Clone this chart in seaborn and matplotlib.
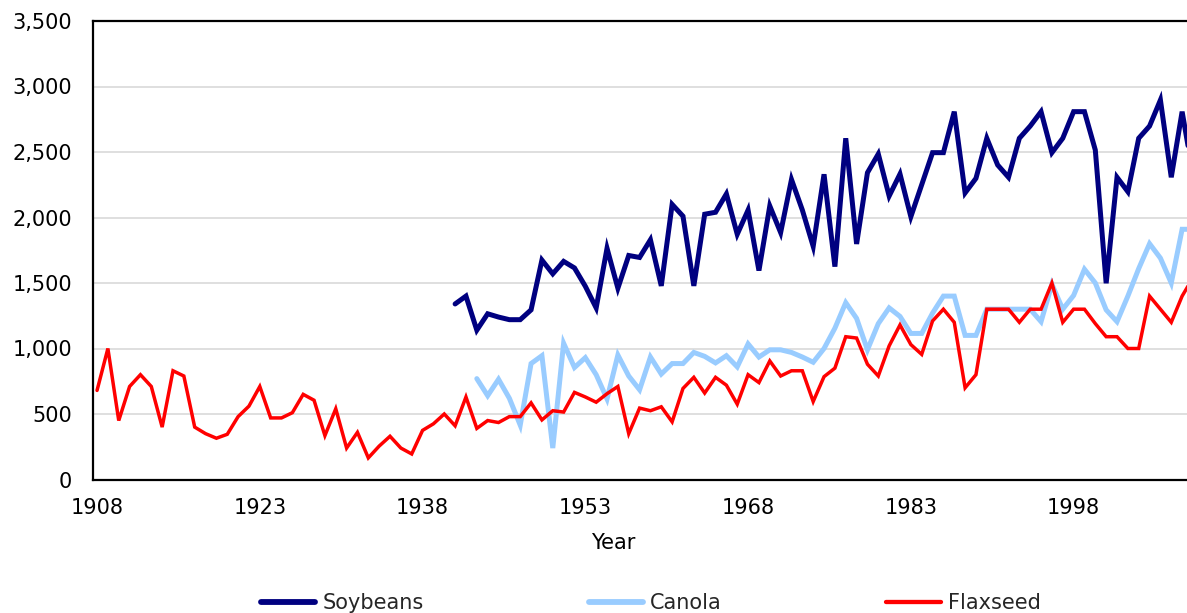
import numpy as np
import pandas as pd
import matplotlib
matplotlib.use("Agg")
import matplotlib.pyplot as plt
from matplotlib.lines import Line2D
from matplotlib.ticker import FuncFormatter, FixedLocator
import seaborn as sns

# Oilseed yields by crop year (series begin in different years)
flax_start = 1908
flaxseed = [
    680, 1000, 450, 710, 800, 710, 400, 830, 790, 400,
    350, 315, 345, 480, 560, 710, 470, 470, 510, 650,
    605, 335, 540, 240, 360, 165, 255, 330, 240, 195,
    375, 425, 500, 410, 630, 390, 450, 435, 480, 480,
    585, 455, 525, 515, 665, 630, 590, 655, 710, 350,
    545, 525, 555, 440, 695, 780, 660, 780, 720, 575,
    800, 740, 905, 790, 830, 830, 595, 785, 850, 1090,
    1080, 880, 790, 1020, 1180, 1030, 955, 1210, 1300, 1200,
    700, 800, 1300, 1300, 1300, 1200, 1300, 1300, 1500, 1200,
    1300, 1300, 1190, 1090, 1090, 1000, 1000, 1400, 1300, 1200,
    1400, 1540,
]

canola_start = 1943
canola = [
    770, 640, 765, 620, 415, 885, 945, 240, 1040, 855,
    930, 800, 615, 950, 790, 685, 935, 805, 885, 885,
    970, 940, 890, 945, 860, 1035, 935, 990, 990, 970,
    935, 895, 1000, 1155, 1350, 1230, 990, 1190, 1310, 1245,
    1115, 1115, 1270, 1400, 1400, 1100, 1100, 1300, 1300, 1300,
    1300, 1300, 1205, 1490, 1300, 1405, 1605, 1500, 1295, 1205,
    1400, 1610, 1800, 1690, 1500, 1910, 1910,
]

soy_start = 1941
soybeans = [
    1340, 1400, 1140, 1265, 1240, 1220, 1220, 1295, 1675, 1570,
    1665, 1615, 1475, 1310, 1765, 1460, 1710, 1695, 1830, 1478,
    2100, 2010, 1478, 2025, 2040, 2180, 1872, 2057, 1595, 2088,
    1885, 2290, 2057, 1780, 2330, 1625, 2605, 1798, 2342, 2485,
    2164, 2332, 2006, 2250, 2495, 2495, 2808, 2188, 2299, 2605,
    2401, 2307, 2605, 2698, 2808, 2495, 2605, 2808, 2808, 2515,
    1498, 2307, 2197, 2605, 2698, 2897, 2307, 2808, 2330,
]

series_names = ["Soybeans", "Canola", "Flaxseed"]
series_colors = {"Soybeans": "#000080", "Canola": "#99CCFF", "Flaxseed": "#FF0000"}
series_widths = {"Soybeans": 3.6, "Canola": 3.6, "Flaxseed": 2.5}

tick_years = [1908, 1923, 1938, 1953, 1968, 1983, 1998]
y_ticks = [0, 500, 1000, 1500, 2000, 2500, 3000, 3500]


def frame(name, start, values):
    return pd.DataFrame({
        "Year": np.arange(start, start + len(values)),
        "Yield": values,
        "Crop": name,
    })


df = pd.concat([
    frame("Soybeans", soy_start, soybeans),
    frame("Canola", canola_start, canola),
    frame("Flaxseed", flax_start, flaxseed),
], ignore_index=True)

sns.set_theme(style="white")
plt.rcParams["font.family"] = ["DejaVu Sans"]

W, H = 1187, 613
fig = plt.figure(figsize=(W / 100, H / 100), dpi=100)
left_px, top_px, bottom_px = 92.7, 21.0, 479.5
ax = fig.add_axes([left_px / W, 1 - bottom_px / H, 1 - left_px / W, (bottom_px - top_px) / H])

for name in series_names:
    sub = df[df["Crop"] == name]
    sns.lineplot(data=sub, x="Year", y="Yield", ax=ax, color=series_colors[name],
                 linewidth=series_widths[name], estimator=None, sort=True,
                 solid_joinstyle="miter", legend=False)

ax.set_xlim(1907.6, 2008.45)
ax.set_ylim(0, 3500)
ax.xaxis.set_major_locator(FixedLocator(tick_years))
ax.yaxis.set_major_locator(FixedLocator(y_ticks))
ax.yaxis.set_major_formatter(FuncFormatter(lambda v, p: f"{int(v):,}"))
ax.set_xlabel("")
ax.set_ylabel("")

ax.yaxis.grid(True, color="#D9D9D9", linewidth=1.2)
ax.xaxis.grid(False)
ax.set_axisbelow(True)

for side in ["left", "bottom", "top"]:
    ax.spines[side].set_visible(True)
    ax.spines[side].set_color("black")
    ax.spines[side].set_linewidth(1.6)
ax.spines["right"].set_visible(False)

ax.tick_params(axis="y", length=0, pad=15, labelsize=15, labelcolor="black")
ax.tick_params(axis="x", length=0, pad=13, labelsize=15, labelcolor="black")

fig.text(613 / W, 1 - 543 / H, "Year", ha="center", va="center", fontsize=15, color="black")

handles = [Line2D([0], [0], color=series_colors[n], linewidth=series_widths[n] + 0.6)
           for n in series_names]
fig.legend(handles, series_names, loc="center", bbox_to_anchor=(651 / W, 1 - 603 / H),
           ncol=3, frameon=False, fontsize=15, handlelength=2.6, handletextpad=0.35,
           columnspacing=7.9)

fig.savefig("out.png", dpi=100, facecolor="white")
